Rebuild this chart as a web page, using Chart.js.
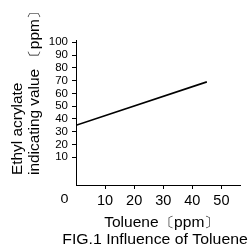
<!DOCTYPE html>
<html>
<head>
<meta charset="utf-8">
<script src="https://cdn.jsdelivr.net/npm/chart.js@4"></script>
<style>
  html, body { margin: 0; padding: 0; background: #fff; }
  #wrap { width: 249px; height: 248px; }
</style>
</head>
<body>
<div id="wrap"><canvas id="fig"></canvas></div>
<script>
// data
var toluene = [0, 45];
var ethylAcrylate = [35, 69];
var xTicks = [10, 20, 30, 40, 50];
var yTicks = [10, 20, 30, 40, 50, 60, 70, 80, 90, 100];

var points = toluene.map(function (x, i) { return { x: x, y: ethylAcrylate[i] }; });

var FONT = '"Liberation Sans", Arial, Helvetica, sans-serif';

// draw text a bit wider than the font, like the scanned original
function wideText(ctx, txt, x, y, sx) {
  ctx.save();
  ctx.translate(x, y);
  ctx.scale(sx, 1);
  ctx.fillText(txt, 0, 0);
  ctx.restore();
}

// texts drawn around the plot (axis titles, caption, shared origin "0")
var textPlugin = {
  id: 'figText',
  afterDraw: function (chart) {
    var ctx = chart.ctx;
    ctx.save();
    ctx.fillStyle = '#000';
    ctx.textBaseline = 'middle';
    ctx.textAlign = 'center';

    ctx.font = '13px ' + FONT;
    wideText(ctx, '0', 64.5, 199.5, 1.1);

    ctx.font = '14px ' + FONT;
    wideText(ctx, 'Toluene\u3014ppm\u3015', 162, 223, 1.11);
    wideText(ctx, 'FIG.1 Influence of Toluene', 155, 240.5, 1.13);

    // y title, two lines, rotated, starting at the bottom
    ctx.translate(0, 175);
    ctx.rotate(-Math.PI / 2);
    ctx.textAlign = 'left';
    wideText(ctx, 'Ethyl acrylate', 0, 18, 1.1);
    wideText(ctx, 'indicating value \u3014ppm\u3015', 0, 35, 1.1);
    ctx.restore();
  }
};

new Chart(document.getElementById('fig'), {
  type: 'scatter',
  data: {
    datasets: [{
      data: points,
      showLine: true,
      borderColor: '#000',
      borderWidth: 1.6,
      pointRadius: 0,
      fill: false
    }]
  },
  options: {
    responsive: true,
    maintainAspectRatio: false,
    animation: false,
    events: [],
    layout: { padding: { left: 0, top: 40, right: 9, bottom: 0 } },
    plugins: { legend: { display: false }, tooltip: { enabled: false } },
    scales: {
      x: {
        type: 'linear',
        min: 0,
        max: 56.4,
        afterBuildTicks: function (s) { s.ticks = xTicks.map(function (v) { return { value: v }; }); },
        afterFit: function (s) { s.height = 63; },
        border: { display: true, color: '#000', width: 1 },
        grid: { display: true, drawOnChartArea: false, color: '#000', tickLength: 4 },
        ticks: { color: '#000', padding: 3, maxRotation: 0, autoSkip: false, font: { family: FONT, size: 14.5 } }
      },
      y: {
        type: 'linear',
        min: -11.8,
        max: 101.8,
        afterBuildTicks: function (s) { s.ticks = yTicks.map(function (v) { return { value: v }; }); },
        afterFit: function (s) { s.width = 76; },
        border: { display: true, color: '#000', width: 1 },
        grid: { display: true, drawOnChartArea: false, color: '#000', tickLength: 4 },
        ticks: { color: '#000', padding: 4, autoSkip: false, font: { family: FONT, size: 11.5 } }
      }
    }
  },
  plugins: [textPlugin]
});
</script>
</body>
</html>
